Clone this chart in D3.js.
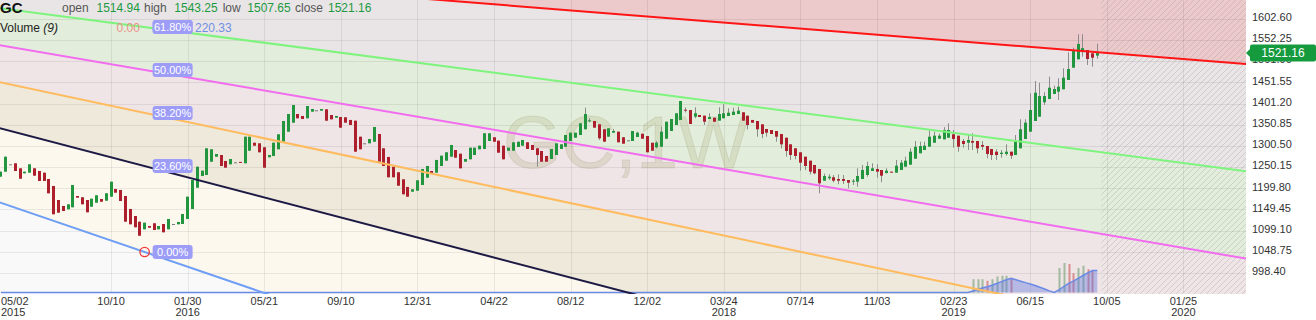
<!DOCTYPE html>
<html><head><meta charset="utf-8">
<script src="https://cdn.jsdelivr.net/npm/d3@7"></script>
<style>html,body{margin:0;padding:0;background:#fff;overflow:hidden}svg{display:block;font-family:"Liberation Sans",Arial,sans-serif}</style>
</head><body><svg id="c" width="1316" height="320"></svg>
<script>
// ---------------- DATA ----------------
const firstWeek = "2015-05-02";
const opens = [1227.4,1239.3,1256.8,1259.2,1247.3,1235.4,1236.9,1247.3,1240.9,1236.9,
1221.9,1205.3,1172.0,1157.8,1150.0,1154.7,1181.5,1178.5,1172.0,1156.1,
1165.6,1174.4,1170.4,1179.9,1198.2,1195.8,1181.5,1150.7,1134.0,1120.5,
1102.4,1110.3,1116.7,1102.4,1115.0,1102.4,1115.0,1114.3,1115.0,1126.9,
1150.7,1201.2,1229.0,1231.4,1263.0,1274.9,1278.9,1264.7,1256.8,1261.6,
1262.5,1259.2,1289.1,1308.1,1306.7,1297.2,1273.5,1276.6,1292.5,1310.5,
1334.3,1355.7,1376.3,1371.6,1366.1,1381.8,1385.1,1384.2,1387.5,1373.9,
1367.5,1369.2,1368.5,1362.1,1360.4,1322.4,1306.7,1306.7,1310.5,1328.8,
1294.8,1274.2,1251.1,1237.8,1221.2,1203.0,1191.8,1194.1,1207.7,1225.0,
1240.9,1236.9,1252.8,1265.4,1274.9,1290.8,1282.0,1263.0,1268.7,1278.9,
1292.5,1293.2,1312.2,1321.0,1312.9,1301.0,1289.1,1289.1,1297.9,1301.0,
1309.1,1302.7,1294.8,1288.4,1276.6,1269.4,1278.9,1293.2,1298.6,1312.2,
1320.0,1326.4,1340.0,1359.7,1359.7,1351.8,1340.0,1322.4,1331.9,1334.3,
1321.0,1313.8,1312.2,1321.7,1329.5,1324.0,1308.1,1297.2,1298.6,1317.6,
1335.9,1350.2,1362.1,1386.5,1385.8,1369.9,1373.9,1372.3,1364.4,1367.5,
1360.4,1366.1,1371.6,1373.9,1376.3,1380.4,1372.3,1362.1,1359.7,1351.8,
1340.7,1338.3,1335.9,1328.8,1320.0,1304.3,1294.8,1285.3,1274.9,1265.4,
1255.2,1245.7,1217.9,1223.6,1226.0,1221.9,1221.9,1219.5,1215.5,1215.5,
1221.9,1231.4,1240.9,1245.7,1243.3,1236.2,1239.3,1236.9,1243.3,1251.1,
1255.9,1270.1,1283.0,1290.8,1298.6,1308.1,1317.6,1316.2,1320.0,1328.1,
1324.8,1312.2,1308.1,1312.2,1312.2,1302.7,1300.3,1293.2,1286.8,1281.3,
1281.3,1286.8,1278.9,1294.8,1316.9,1334.3,1359.7,1369.9,1404.1,1411.9,
1423.8,1429.3,1435.0,1457.1,1486.3,1506.2,1523.3,1528.3,1520.5,1514.94];
const highs = [1239.3,1274.9,1256.8,1259.2,1247.3,1239.3,1256.8,1247.3,1240.9,1236.9,
1221.9,1205.3,1172.0,1157.8,1161.8,1207.7,1181.5,1178.5,1172.0,1175.1,
1183.2,1174.4,1188.0,1215.5,1198.2,1195.8,1181.5,1150.7,1134.0,1120.5,
1118.1,1110.3,1116.7,1110.3,1115.0,1126.9,1115.0,1119.8,1138.8,1179.9,
1219.5,1251.1,1241.7,1294.8,1292.5,1281.3,1278.9,1264.7,1269.4,1261.6,
1262.5,1322.4,1322.4,1308.1,1306.7,1297.2,1278.9,1308.1,1328.1,1359.7,
1376.3,1397.7,1376.3,1371.6,1395.3,1388.2,1385.1,1388.2,1387.5,1373.9,
1371.6,1369.2,1368.5,1362.1,1360.4,1322.4,1306.7,1316.9,1345.4,1328.8,
1294.8,1274.2,1251.1,1237.8,1221.2,1203.0,1197.5,1218.8,1245.7,1252.8,
1240.9,1267.1,1277.3,1285.3,1302.7,1290.8,1282.0,1269.4,1296.3,1296.3,
1301.0,1330.5,1330.5,1321.0,1312.9,1301.0,1296.3,1309.1,1310.5,1314.6,
1309.1,1302.7,1294.8,1288.4,1276.6,1293.2,1306.7,1304.3,1326.4,1331.9,
1331.9,1354.2,1391.3,1366.1,1359.7,1351.8,1340.0,1342.3,1340.7,1334.3,
1321.0,1313.8,1335.9,1334.3,1329.5,1324.0,1308.1,1312.2,1346.1,1358.0,
1364.4,1378.0,1407.2,1392.0,1385.8,1392.2,1373.9,1372.3,1378.0,1367.5,
1392.2,1399.3,1389.9,1391.3,1393.7,1380.4,1372.3,1362.1,1359.7,1351.8,
1340.7,1338.3,1335.9,1328.8,1320.0,1304.3,1294.8,1285.3,1274.9,1265.4,
1255.2,1245.7,1234.5,1233.1,1231.4,1233.1,1231.4,1219.5,1221.9,1247.3,
1255.2,1263.0,1259.2,1256.8,1243.3,1247.3,1239.3,1267.1,1267.1,1274.9,
1294.8,1312.2,1310.5,1310.5,1340.0,1334.3,1329.5,1345.0,1354.2,1338.3,
1324.8,1316.9,1326.4,1330.5,1312.2,1312.2,1300.3,1293.2,1292.5,1290.8,
1304.3,1286.8,1326.4,1363.7,1363.7,1425.5,1454.7,1450.7,1427.9,1465.0,
1443.5,1461.1,1484.8,1522.9,1533.8,1565.6,1565.6,1528.3,1520.5,1543.25];
const lows = [1227.4,1239.3,1256.8,1240.9,1222.6,1235.4,1236.9,1229.8,1217.2,1217.2,
1187.9,1138.1,1141.9,1145.9,1150.0,1154.7,1177.5,1161.8,1142.8,1156.1,
1165.6,1168.0,1170.4,1179.9,1189.4,1169.7,1120.5,1114.3,1107.2,1087.2,
1102.4,1106.3,1100.8,1102.4,1095.3,1102.4,1115.0,1114.3,1115.0,1126.9,
1150.7,1201.2,1229.0,1231.4,1263.0,1274.9,1252.8,1248.8,1256.8,1261.6,
1260.6,1259.2,1289.1,1301.0,1285.3,1248.8,1273.5,1276.6,1292.5,1310.5,
1334.3,1355.7,1366.1,1364.4,1366.1,1381.8,1385.1,1384.2,1360.4,1363.7,
1367.5,1343.8,1355.7,1350.2,1286.8,1292.5,1306.7,1306.7,1310.5,1263.0,
1252.8,1226.0,1226.0,1206.0,1185.6,1179.9,1191.8,1194.1,1207.7,1225.0,
1233.8,1236.9,1252.8,1265.4,1274.9,1272.5,1247.3,1263.0,1268.7,1278.9,
1292.5,1293.2,1312.2,1310.5,1284.4,1268.7,1289.1,1289.1,1297.9,1301.0,
1293.2,1290.8,1251.1,1263.0,1263.0,1269.4,1278.9,1293.2,1298.6,1312.2,
1320.0,1326.4,1340.0,1356.6,1343.8,1314.6,1310.5,1322.4,1331.9,1309.1,
1305.8,1313.8,1312.2,1321.7,1317.6,1285.3,1289.1,1294.8,1298.6,1317.6,
1335.9,1350.2,1362.1,1380.0,1352.6,1366.1,1369.2,1350.2,1364.4,1358.0,
1360.4,1366.1,1371.6,1373.9,1376.3,1360.4,1340.0,1355.7,1322.4,1318.6,
1322.4,1328.8,1310.5,1294.8,1274.9,1267.1,1268.7,1241.7,1243.3,1233.1,
1233.0,1187.9,1217.9,1219.5,1214.1,1209.3,1210.0,1199.8,1207.7,1203.6,
1221.9,1227.4,1240.9,1225.0,1214.1,1234.5,1236.9,1236.9,1243.3,1251.1,
1255.9,1270.1,1283.0,1290.8,1298.6,1308.1,1317.6,1316.2,1320.0,1296.3,
1286.8,1296.3,1290.8,1290.8,1283.0,1290.8,1271.1,1267.1,1267.1,1272.5,
1277.3,1269.4,1278.9,1294.8,1316.9,1334.3,1359.7,1369.9,1397.7,1411.9,
1423.8,1409.6,1435.0,1457.1,1486.3,1506.2,1512.4,1492.7,1488.7,1507.65];
const closes = [1239.3,1274.9,1256.8,1240.9,1222.6,1239.3,1256.8,1229.8,1217.2,1217.2,
1187.9,1138.1,1141.9,1145.9,1161.8,1207.7,1177.5,1161.8,1142.8,1175.1,
1183.2,1168.0,1188.0,1215.5,1189.4,1169.7,1120.5,1114.3,1107.2,1087.2,
1118.1,1106.3,1100.8,1110.3,1095.3,1126.9,1115.0,1119.8,1138.8,1179.9,
1219.5,1251.1,1241.7,1294.8,1292.5,1281.3,1252.8,1248.8,1269.4,1261.6,
1260.6,1322.4,1322.4,1301.0,1285.3,1248.8,1278.9,1308.1,1328.1,1359.7,
1376.3,1397.7,1366.1,1364.4,1395.3,1388.2,1385.1,1388.2,1360.4,1363.7,
1371.6,1343.8,1355.7,1350.2,1286.8,1292.5,1306.7,1316.9,1345.4,1263.0,
1252.8,1226.0,1226.0,1206.0,1185.6,1179.9,1197.5,1218.8,1245.7,1252.8,
1233.8,1267.1,1277.3,1285.3,1302.7,1272.5,1247.3,1269.4,1296.3,1296.3,
1301.0,1330.5,1330.5,1310.5,1284.4,1268.7,1296.3,1309.1,1310.5,1314.6,
1293.2,1290.8,1278.9,1263.0,1263.0,1293.2,1306.7,1304.3,1326.4,1331.9,
1331.9,1354.2,1376.3,1361.4,1343.8,1318.6,1310.5,1342.3,1335.9,1309.1,
1305.8,1313.8,1335.9,1331.9,1317.6,1285.3,1289.1,1308.1,1334.3,1358.0,
1364.4,1378.0,1407.2,1384.2,1352.6,1378.0,1369.2,1358.0,1369.2,1358.0,
1376.3,1378.0,1379.4,1381.8,1384.2,1360.4,1350.2,1355.7,1340.0,1328.8,
1331.9,1328.8,1322.4,1304.3,1288.4,1278.9,1276.6,1260.6,1252.8,1239.3,
1235.4,1211.7,1229.0,1227.4,1217.9,1217.9,1217.2,1213.1,1217.9,1229.0,
1243.3,1252.8,1247.3,1239.3,1229.8,1241.7,1236.9,1253.5,1260.6,1265.4,
1286.8,1298.6,1300.3,1301.0,1322.4,1324.8,1324.8,1338.3,1338.3,1316.9,
1298.6,1305.1,1314.6,1308.1,1294.8,1298.6,1281.3,1278.9,1278.9,1284.4,
1286.8,1277.3,1310.5,1340.0,1355.7,1385.8,1426.9,1419.0,1419.0,1438.8,
1435.7,1441.2,1462.5,1483.2,1528.3,1542.6,1532.8,1507.0,1510.0,1521.16];
const volumes = [0,0,0,0,0,0,0,0,0,0,0,0,0,0,0,0,0,0,0,0,
0,0,0,0,0,0,0,0,0,0,0,0,0,0,0,0,0,0,0,0,
0,0,0,0,0,0,0,0,0,0,0,0,0,0,0,0,0,0,0,0,
0,0,0,0,0,0,0,0,0,0,0,0,0,0,0,0,0,0,0,0,
0,0,0,0,0,0,0,0,0,0,0,0,0,0,0,0,0,0,0,0,
0,0,0,0,0,0,0,0,0,0,0,0,0,0,0,0,0,0,0,0,
0,0,0,0,0,0,0,0,0,0,0,0,0,0,0,0,0,0,0,0,
0,0,0,0,0,0,0,0,0,0,0,0,0,0,0,0,0,0,0,0,
0,0,0,0,0,0,0,0,0,0,0,0,0,0,0,0,0,0,0,0,
0,0,0,0,0,0,0,0,0,0,0,0,0,0,0,0,0,0,0,0,
0,0,0,133,133,133,117,133,160,167,167,143,0,0,0,0,0,0,0,0,
0,245,295,285,192,245,268,233,220,0];
const volumeMaPeriod = 9;

const yTickLabels = ["998.40","1048.75","1099.10","1149.45","1199.80","1250.15","1300.50","1350.85","1401.20","1451.55","1501.90","1552.25","1602.60"];
const xTickDates = ["2015-05-02","2015-10-10","2016-01-30","2016-05-21","2016-09-10","2016-12-31","2017-04-22","2017-08-12","2017-12-02","2018-03-24","2018-07-14","2018-11-03","2019-02-23","2019-06-15","2019-10-05","2020-01-25"];
const xTickLabels = ["05/02","10/10","01/30","05/21","09/10","12/31","04/22","08/12","12/02","03/24","07/14","11/03","02/23","06/15","10/05","01/25"];
const xTickYears = ["2015","","2016","","","","","","","2018","","","2019","","","2020"];

const fibLevels = [0, 0.236, 0.382, 0.5, 0.618, 1];
const fibLabels = ["0.00%","23.60%","38.20%","50.00%","61.80%"];
const fanStart = {date:"2011-08-27", value:1913.1};
const fanEnd = {date:"2015-11-28", value:1048.5};
const redLinePoints = [{date:"2015-05-02", value:1730.0},{date:"2020-04-25", value:1495.0}];

const headerItems = [["open","1514.94"],["high","1543.25"],["low","1507.65"],["close","1521.16"]];
const volumeLegend = ["0.00","220.33"];
const lastPrice = 1521.16;

// ---------------- CHART ----------------
const plotW = 1246, plotH = 293;
const svg = d3.select("#c");
const parse = d3.utcParse("%Y-%m-%d");
const start = parse(firstWeek);
const dates = opens.map((_, i) => d3.utcDay.offset(start, 7 * i));
const data = dates.map((d, i) => ({d, o: opens[i], h: highs[i], l: lows[i], c: closes[i], v: volumes[i]}));

const x = d3.scaleUtc().domain([new Date(Date.UTC(2015,3,30,13)), new Date(Date.UTC(2020,3,25,11))]).range([0, plotW]);
const y = d3.scaleLinear().domain([951.1, 1647.1]).range([plotH, 0]);
const yv = d3.scaleLinear().domain([0, 1000]).range([plotH - 0.5, plotH - 100.5]);

const defs = svg.append("defs");
defs.append("clipPath").attr("id", "plotclip").append("rect").attr("x", 0).attr("y", 0).attr("width", plotW).attr("height", plotH + 1);
const pat = defs.append("pattern").attr("id", "hatch").attr("patternUnits", "userSpaceOnUse").attr("width", 6).attr("height", 6);
pat.append("path").attr("d", "M-1,1 l2,-2 M0,6 l6,-6 M5,7 l2,-2").attr("stroke", "rgba(150,150,150,0.32)").attr("stroke-width", 1);

const plot = svg.append("g").attr("clip-path", "url(#plotclip)");
plot.append("rect").attr("width", plotW).attr("height", plotH + 1).attr("fill", "#f9f9f9");

// fan geometry
const xA = x(parse(fanStart.date)), yA = y(fanStart.value);
const xB = x(parse(fanEnd.date)), yB = y(fanEnd.value);
function levelY(r, px) {
  const yl = y(fanEnd.value + r * (fanStart.value - fanEnd.value));
  return yA + (yl - yA) * (px - xA) / (xB - xA);
}
const bandFills = ["#fdf8ee", "#eee9da", "#efe4e6", "#e3eddb", "#e9e5e6"];
for (let k = 0; k < fibLevels.length - 1; k++) {
  const pts = [[xA, yA], [plotW, levelY(fibLevels[k], plotW)], [plotW, levelY(fibLevels[k + 1], plotW)]];
  plot.append("path").attr("d", d3.line()(pts) + "Z").attr("fill", bandFills[k]);
}
// red line + fill
const rx1 = x(parse(redLinePoints[0].date)), ry1 = y(redLinePoints[0].value);
const rx2 = x(parse(redLinePoints[1].date)), ry2 = y(redLinePoints[1].value);
const redY = px => ry1 + (ry2 - ry1) * (px - rx1) / (rx2 - rx1);
plot.append("path").attr("d", d3.line()([[0, redY(0)], [plotW, redY(plotW)], [plotW, -5], [0, -5]]) + "Z").attr("fill", "#ecc9ca");

// hatch future
const lastX = x(dates[dates.length - 1]);
plot.append("rect").attr("x", lastX + 4).attr("y", 0).attr("width", plotW - lastX - 4).attr("height", plotH + 1).attr("fill", "url(#hatch)");

// grid
const yTickVals = yTickLabels.map(Number);
plot.selectAll(".hg").data(yTickVals).enter().append("line")
  .attr("x1", 0).attr("x2", plotW).attr("y1", d => Math.round(y(d)) + 0.5).attr("y2", d => Math.round(y(d)) + 0.5)
  .attr("stroke", "#000").attr("stroke-opacity", 0.07);
const xTickVals = xTickDates.map(parse);
plot.selectAll(".vg").data(xTickVals.slice(1)).enter().append("line")
  .attr("y1", 0).attr("y2", plotH).attr("x1", d => Math.round(x(d)) + 0.5).attr("x2", d => Math.round(x(d)) + 0.5)
  .attr("stroke", "#000").attr("stroke-opacity", 0.07);

// watermark
plot.append("text").attr("x", 503).attr("y", 168).attr("font-size", 75).attr("fill", "rgba(165,165,110,0.22)")
  .attr("stroke", "rgba(150,150,110,0.18)").attr("stroke-width", 1).text("GC,1W");

// volume
plot.selectAll(".vb").data(data.filter((d, i) => d.v > 0)).enter().append("rect")
  .attr("x", d => Math.round(x(d.d)) - 0.5).attr("width", 2)
  .attr("y", d => yv(d.v)).attr("height", d => yv(0) - yv(d.v))
  .attr("fill", d => { const i = data.indexOf(d); return (i === 0 || d.v >= data[i - 1].v) ? "#93b393" : "#d47f80"; })
  .attr("opacity", 0.85);
const ma = data.map((d, i) => ({d: d.d, v: d3.mean(volumes.slice(Math.max(0, i - volumeMaPeriod + 1), i + 1))}));
plot.append("path").datum(ma).attr("d", d3.area().x(p => x(p.d)).y0(yv(0)).y1(p => yv(p.v)))
  .attr("fill", "rgba(90,115,225,0.38)");
plot.append("path").datum(ma).attr("d", d3.line().x(p => x(p.d)).y(p => yv(p.v)))
  .attr("fill", "none").attr("stroke", "#6a8ae6").attr("stroke-width", 1.5);

// candles
const cg = plot.append("g");
data.forEach(d => {
  const bx = Math.round(x(d.d) - 1.5);
  cg.append("line").attr("x1", bx + 1.5).attr("x2", bx + 1.5).attr("y1", y(d.h)).attr("y2", y(d.l))
    .attr("stroke", "#8c8c8c").attr("stroke-width", 1);
  const top = y(Math.max(d.o, d.c)), bot = y(Math.min(d.o, d.c));
  const col = d.c > d.o ? "#21963f" : (d.c < d.o ? "#ad1f2d" : "#7a7a7a");
  cg.append("rect").attr("x", bx).attr("width", 3).attr("y", top).attr("height", Math.max(1, bot - top)).attr("fill", col);
});

// fan lines
const lineColors = ["#6f9ef5", "#1c1a45", "#ffbb5e", "#f16cef", "#7ef47e", "#888"];
fibLevels.forEach((r, k) => {
  plot.append("line").attr("x1", xA).attr("y1", yA).attr("x2", plotW).attr("y2", levelY(r, plotW))
    .attr("stroke", lineColors[k]).attr("stroke-width", 2);
});
plot.append("line").attr("x1", 0).attr("y1", redY(0)).attr("x2", plotW).attr("y2", redY(plotW))
  .attr("stroke", "#ff1515").attr("stroke-width", 2);

// anchor marker + fib labels
plot.append("circle").attr("cx", xB).attr("cy", yB).attr("r", 4.7).attr("fill", "none").attr("stroke", "#f03a3a").attr("stroke-width", 1.3);
fibLabels.forEach((t, k) => {
  const yc = levelY(fibLevels[k], xB);
  plot.append("rect").attr("x", xB + 8).attr("y", yc - 7).attr("width", 40).attr("height", 14).attr("rx", 3).attr("fill", "#9d9df8");
  plot.append("text").attr("x", xB + 28).attr("y", yc).attr("dy", "0.36em").attr("text-anchor", "middle")
    .attr("font-size", 11).attr("fill", "#fff").text(t);
});

// y axis labels
svg.selectAll(".yl").data(yTickVals).enter().append("text")
  .attr("x", 1252).attr("y", d => y(d) - 1.5).attr("dy", "0.35em").attr("font-size", 11).attr("fill", "#333")
  .text((d, i) => yTickLabels[i]);
// price label
const py = y(lastPrice);
svg.append("path").attr("d", `M1246,${py} L1251,${py - 5} L1251,${py + 5} Z`).attr("fill", "#159a3e");
svg.append("rect").attr("x", 1250).attr("y", py - 8.5).attr("width", 66).attr("height", 17).attr("rx", 2).attr("fill", "#159a3e");
svg.append("text").attr("x", 1283).attr("y", py).attr("dy", "0.36em").attr("text-anchor", "middle").attr("font-size", 12).attr("fill", "#fff").text(lastPrice.toFixed(2));

// x axis labels
xTickVals.forEach((d, i) => {
  const first = i === 0;
  const tx = first ? 1 : x(d);
  const anchor = first ? "start" : "middle";
  svg.append("text").attr("x", tx).attr("y", 305).attr("text-anchor", anchor).attr("font-size", 11).attr("fill", "#333").text(xTickLabels[i]);
  if (xTickYears[i]) svg.append("text").attr("x", tx).attr("y", 316).attr("text-anchor", anchor).attr("font-size", 11).attr("fill", "#333").text(xTickYears[i]);
});

// header legend
svg.append("text").attr("x", 0).attr("y", 12.5).attr("font-size", 15).attr("font-weight", "bold").attr("fill", "#111").text("GC");
const hx = [[62, 96.5], [144, 174.3], [222.7, 247.3], [295, 328]];
headerItems.forEach((h, i) => {
  svg.append("text").attr("x", hx[i][0]).attr("y", 11.5).attr("font-size", 12).attr("fill", "#555").text(h[0]);
  svg.append("text").attr("x", hx[i][1]).attr("y", 11.5).attr("font-size", 12).attr("fill", "#1b9a3f").text(h[1]);
});
const vt = svg.append("text").attr("x", 0).attr("y", 32).attr("font-size", 12).attr("fill", "#222");
vt.append("tspan").text("Volume ");
vt.append("tspan").attr("font-style", "italic").text("(9)");
svg.append("text").attr("x", 116.5).attr("y", 32).attr("font-size", 12).attr("fill", "#e8928a").text(volumeLegend[0]);
svg.append("text").attr("x", 195).attr("y", 32).attr("font-size", 12).attr("fill", "#6f8fe2").text(volumeLegend[1]);
// redraw 61.8% label on top of legend area
const yc618 = levelY(fibLevels[4], xB);
svg.append("rect").attr("x", xB + 8).attr("y", yc618 - 7).attr("width", 40).attr("height", 14).attr("rx", 3).attr("fill", "#9d9df8");
svg.append("text").attr("x", xB + 28).attr("y", yc618).attr("dy", "0.36em").attr("text-anchor", "middle").attr("font-size", 11).attr("fill", "#fff").text(fibLabels[4]);
</script>
</body></html>
